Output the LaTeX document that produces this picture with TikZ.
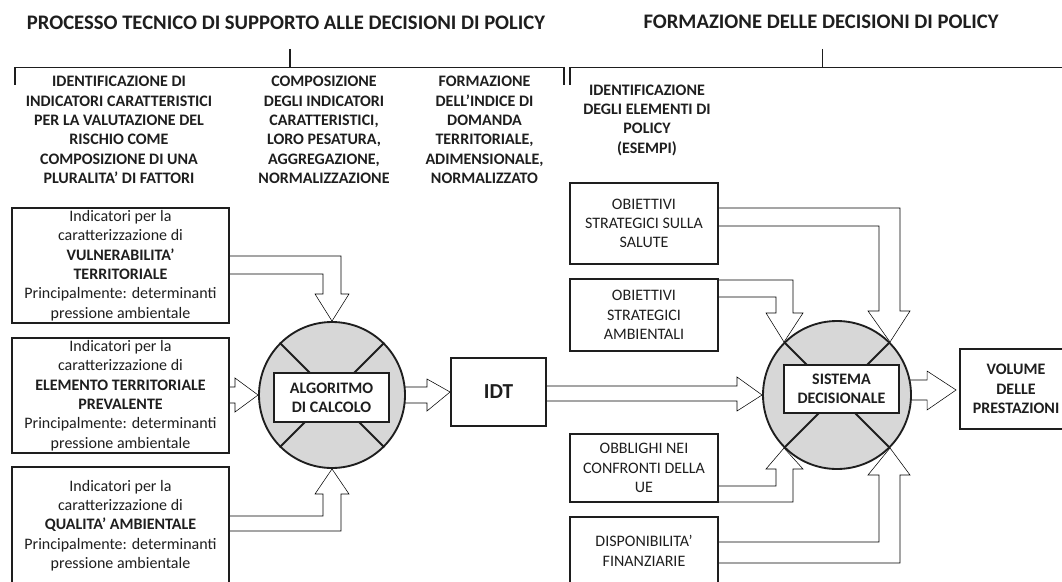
\documentclass[tikz,border=0pt]{standalone}
\usepackage{fontspec}
\setmainfont{Carlito}
\usetikzlibrary{calc,backgrounds}

\definecolor{ink}{RGB}{30,30,30}
\definecolor{discgray}{RGB}{215,215,215}

\begin{document}
\begin{tikzpicture}[x=0.75pt, y=-0.75pt, line width=1.4pt, color=ink,
    box/.style={draw, align=center, inner sep=0pt, font=\fontsize{12}{14.5}\selectfont},
    colhead/.style={align=center, font=\bfseries\fontsize{12}{14.5}\selectfont},
    title/.style={font=\bfseries\fontsize{15.5}{18}\selectfont},
    disc/.style={circle, draw, fill=discgray, inner sep=0pt},
    blk/.style={draw, fill=white, line join=miter}]
  \useasboundingbox (0,0) rectangle (1062,581);

  % titles and brackets
  \node[title] (tecnico) at (286,23) {PROCESSO TECNICO DI SUPPORTO ALLE DECISIONI DI POLICY};
  \node[title] (policy) at (821,22) {FORMAZIONE DELLE DECISIONI DI POLICY};
  \draw[line width=1.1pt] (15,85) -- (15,67.5) -- (564,67.5) -- (564,85);
  \draw[line width=1.1pt] (290,49) -- (290,67.5);
  \draw[line width=1.1pt] (570,85) -- (570,67.5) -- (1062,67.5);
  \draw[line width=1.1pt] (822.5,49) -- (822.5,67.5);

  \node[colhead] (col1) at (119,130) {IDENTIFICAZIONE DI\\INDICATORI CARATTERISTICI\\PER LA VALUTAZIONE DEL\\RISCHIO COME\\COMPOSIZIONE DI UNA\\PLURALITA’ DI FATTORI};
  \node[colhead] (col2) at (324,130) {COMPOSIZIONE\\DEGLI INDICATORI\\CARATTERISTICI,\\LORO PESATURA,\\AGGREGAZIONE,\\NORMALIZZAZIONE};
  \node[colhead] (col3) at (484.5,130) {FORMAZIONE\\DELL’INDICE DI\\DOMANDA\\TERRITORIALE,\\ADIMENSIONALE,\\NORMALIZZATO};
  \node[colhead] (col4) at (647,120) {IDENTIFICAZIONE\\DEGLI ELEMENTI DI\\POLICY\\(ESEMPI)};

  % indicator boxes
  \node[box, minimum width=162.75pt, minimum height=86.25pt] (vuln) at (120.5,265.5)
    {Indicatori per la\\caratterizzazione di\\\textbf{VULNERABILITA’}\\\textbf{TERRITORIALE}\\Principalmente: determinanti\\pressione ambientale};
  \node[box, minimum width=162.75pt, minimum height=86.25pt] (elem) at (120.5,395.5)
    {Indicatori per la\\caratterizzazione di\\\textbf{ELEMENTO TERRITORIALE}\\\textbf{PREVALENTE}\\Principalmente: determinanti\\pressione ambientale};
  \node[box, minimum width=162.75pt, minimum height=87.75pt] (qual) at (120.5,525.5)
    {Indicatori per la\\caratterizzazione di\\\textbf{QUALITA’ AMBIENTALE}\\Principalmente: determinanti\\pressione ambientale};

  % algorithm
  \node[disc, minimum size=109.5pt] (alg) at (332,395) {};
  \draw (alg.north west) -- (alg.south east);
  \draw (alg.north east) -- (alg.south west);
  \node[box, fill=white, font=\bfseries\fontsize{12}{14.5}\selectfont, minimum width=86.25pt, minimum height=36.75pt] (algtxt) at (331.5,397.5) {ALGORITMO\\DI CALCOLO};

  \node[box, font=\bfseries\fontsize{16}{18}\selectfont, minimum width=71.25pt, minimum height=51pt] (idt) at (498.5,392) {IDT};

  % policy elements
  \node[box, minimum width=111pt, minimum height=60.75pt] (salute) at (644,223.5) {OBIETTIVI\\STRATEGICI SULLA\\SALUTE};
  \node[box, minimum width=111pt, minimum height=54pt] (ambient) at (644,315) {OBIETTIVI\\STRATEGICI\\AMBIENTALI};
  \node[box, minimum width=111pt, minimum height=51pt] (ue) at (644,468) {OBBLIGHI NEI\\CONFRONTI DELLA\\UE};
  \node[box, minimum width=111pt, minimum height=51pt] (fin) at (644,551) {DISPONIBILITA’\\FINANZIARIE};

  % decision system
  \node[disc, minimum size=111pt] (sis) at (837,395) {};
  \draw (sis.north west) -- (sis.south east);
  \draw (sis.north east) -- (sis.south west);
  \node[box, fill=white, font=\bfseries\fontsize{12}{14.5}\selectfont, minimum width=86.25pt, minimum height=36pt] (sistxt) at (841.5,389) {SISTEMA\\DECISIONALE};

  \node[box, font=\bfseries\fontsize{12}{14.5}\selectfont, minimum width=84pt, minimum height=60pt] (vol) at (1016,389) {VOLUME\\DELLE\\PRESTAZIONI};

  % block arrows
  \begin{scope}[on background layer]
    \draw[blk] ($(vuln.east)+(0,-9.5)$) -- (341,256) -- (341,294) -- (349,294) -- (alg.north)
      -- (315,294) -- (323,294) -- (323,274) -- ($(vuln.east)+(0,8.5)$);
    \draw[blk] ($(elem.east)+(0,-8.5)$) -- (235,387) -- (235,378) -- (alg.west)
      -- (235,412) -- (235,403) -- ($(elem.east)+(0,7.5)$);
    \draw[blk] ($(qual.east)+(0,-9.5)$) -- (323,516) -- (323,494) -- (315,494) -- (alg.south)
      -- (349,494) -- (341,494) -- (341,531) -- ($(qual.east)+(0,5.5)$);
    \draw[blk] (404,387) -- (427,387) -- (427,379) -- (idt.west) -- (427,411) -- (427,403) -- (404,403);
    \draw[blk] ($(idt.east)+(0,-6)$) -- (737,386) -- (737,377) -- (sis.west)
      -- (737,411) -- (737,401) -- ($(idt.east)+(0,9)$);
    \draw[blk] (909,380) -- (927,380) -- (927,371) -- ($(vol.west)+(-3,1)$)
      -- (927,410) -- (927,400) -- (909,400);
    \draw[blk] ($(salute.east)+(0,-15.5)$) -- (900,208) -- (900,311) -- (910,311) -- (sis.north east)
      -- (868,311) -- (879,311) -- (879,226) -- ($(salute.east)+(0,2.5)$);
    \draw[blk] ($(ambient.east)+(0,-35)$) -- (793,280) -- (793,313) -- (803,313) -- (sis.north west)
      -- (766,313) -- (776,313) -- (776,297) -- ($(ambient.east)+(0,-18)$);
    \draw[blk] ($(ue.east)+(0,18)$) -- (776,486) -- (776,469) -- (766,469) -- (sis.south west)
      -- (803,469) -- (793,469) -- (793,502) -- ($(ue.east)+(0,34)$);
    \draw[blk] ($(fin.east)+(0,-9)$) -- (879,542) -- (879,475) -- (868,475) -- (sis.south east)
      -- (910,475) -- (900,475) -- (900,563) -- ($(fin.east)+(0,12)$);
  \end{scope}
\end{tikzpicture}
\end{document}
